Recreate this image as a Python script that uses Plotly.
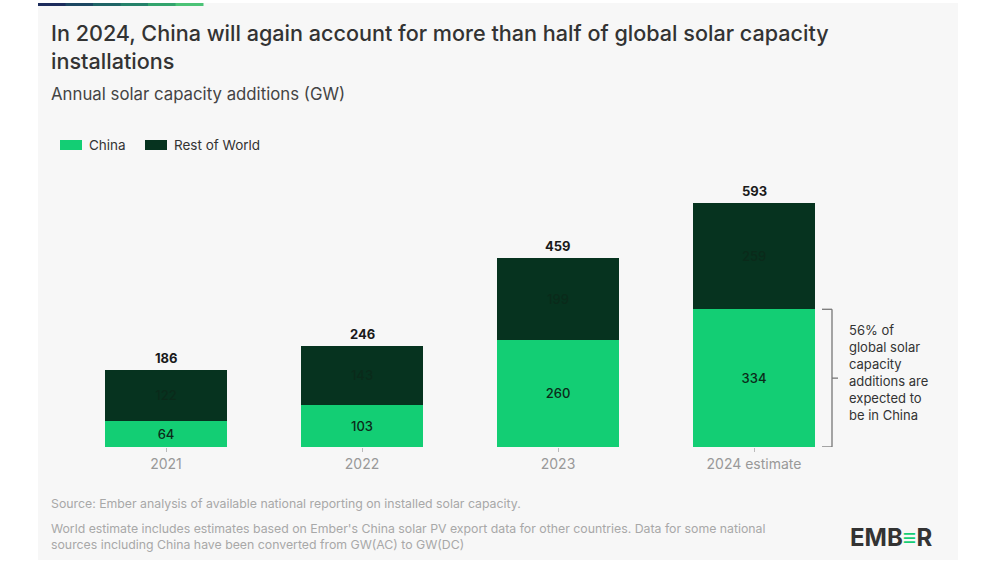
import plotly.graph_objects as go

# data
years = ["2021", "2022", "2023", "2024 estimate"]
china = [64, 103, 260, 334]
rest_of_world = [122, 143, 199, 259]
totals = [186, 246, 459, 593]
series_names = ["China", "Rest of World"]
series_colors = ["#13ce74", "#06331f"]

W, H = 1000, 563
L, R, T, B = 68, 148, 179, 116
FONT = "Inter"


def px2x(px):
    return (px - L) / (W - L - R)


def py2y(py):
    return (H - B - py) / (H - T - B)


fig = go.Figure()
fig.add_trace(go.Bar(
    x=years, y=china, name=series_names[0],
    marker=dict(color=series_colors[0], line=dict(width=0)),
    text=china, textposition="inside", insidetextanchor="middle",
    textfont=dict(color="#0b2a19", size=13, family=FONT, weight=500),
))
fig.add_trace(go.Bar(
    x=years, y=rest_of_world, name=series_names[1],
    marker=dict(color=series_colors[1], line=dict(width=0)),
    text=rest_of_world, textposition="inside", insidetextanchor="middle",
    textfont=dict(color="#0a2a1a", size=13, family=FONT, weight=500),
))

# totals above the stacks (index positions on the category axis)
for i, tot in enumerate(totals):
    fig.add_annotation(x=i, y=tot, text="<b>%d</b>" % tot, showarrow=False,
                       yanchor="bottom", yshift=2,
                       font=dict(size=13, color="#1a1a1a", family=FONT))

# card background and top accent bar
fig.add_shape(type="rect", xref="paper", yref="paper", layer="below",
              x0=px2x(38), x1=px2x(958), y0=py2y(560), y1=py2y(3),
              fillcolor="#f7f7f7", line=dict(width=0))
grad = ["#1c2c5c", "#1d4762", "#1f6466", "#25826a", "#33a46d", "#4cc377"]
seg = (203 - 38) / len(grad)
for i, c in enumerate(grad):
    fig.add_shape(type="rect", xref="paper", yref="paper",
                  x0=px2x(38 + i * seg), x1=px2x(38 + (i + 1) * seg + 0.5),
                  y0=py2y(6), y1=py2y(3), fillcolor=c, line=dict(width=0))

# legend drawn by hand (wide swatches like the reference)
leg_x = [60, 145]
for name, col, lx in zip(series_names, series_colors, leg_x):
    fig.add_shape(type="rect", xref="paper", yref="paper",
                  x0=px2x(lx), x1=px2x(lx + 22), y0=py2y(150), y1=py2y(140),
                  fillcolor=col, line=dict(width=0))
    fig.add_annotation(xref="paper", yref="paper", x=px2x(lx + 27), y=py2y(145),
                       xanchor="left", yanchor="middle", showarrow=False, text=name,
                       font=dict(size=13.5, color="#333333", family=FONT))

# bracket beside the 2024 China bar
bx = px2x(832)
br = dict(color="#777777", width=1.3)
fig.add_shape(type="line", xref="paper", yref="y", x0=bx, x1=bx, y0=0, y1=china[3], line=br)
fig.add_shape(type="line", xref="paper", yref="y", x0=px2x(822), x1=bx, y0=0, y1=0, line=br)
fig.add_shape(type="line", xref="paper", yref="y", x0=px2x(822), x1=bx,
              y0=china[3], y1=china[3], line=br)
fig.add_shape(type="line", xref="paper", yref="y", x0=bx, x1=px2x(838),
              y0=china[3] / 2, y1=china[3] / 2, line=br)
fig.add_annotation(xref="paper", yref="paper", x=px2x(847), y=py2y(372),
                   xanchor="left", yanchor="middle", align="left", showarrow=False,
                   text="56% of<br>global solar<br>capacity<br>additions are<br>expected to<br>be in China",
                   font=dict(size=13, color="#333333", family=FONT))

# titles
fig.add_annotation(xref="paper", yref="paper", x=px2x(49), y=py2y(18),
                   xanchor="left", yanchor="top", align="left", showarrow=False,
                   text="In 2024, China will again account for more than half of global solar capacity<br>installations",
                   font=dict(size=21.6, color="#333333", family=FONT, weight=500))
fig.add_annotation(xref="paper", yref="paper", x=px2x(49), y=py2y(94),
                   xanchor="left", yanchor="middle", showarrow=False,
                   text="Annual solar capacity additions (GW)",
                   font=dict(size=16.8, color="#444444", family=FONT))

# footer notes
fig.add_annotation(xref="paper", yref="paper", x=px2x(49), y=py2y(503),
                   xanchor="left", yanchor="middle", showarrow=False,
                   text="Source: Ember analysis of available national reporting on installed solar capacity.",
                   font=dict(size=12.3, color="#a8a8a8", family=FONT))
fig.add_annotation(xref="paper", yref="paper", x=px2x(49), y=py2y(536),
                   xanchor="left", yanchor="middle", align="left", showarrow=False,
                   text="World estimate includes estimates based on Ember's China solar PV export data for other countries. Data for some national<br>sources including China have been converted from GW(AC) to GW(DC)",
                   font=dict(size=12.3, color="#a8a8a8", family=FONT))
fig.add_annotation(xref="paper", yref="paper", x=px2x(935), y=py2y(537),
                   xanchor="right", yanchor="middle", showarrow=False,
                   text="<b>EMB<span style='color:#13ce74'>≡</span>R</b>",
                   font=dict(size=24, color="#333333", family=FONT))

fig.update_layout(
    width=W, height=H, barmode="stack", bargap=0.38,
    margin=dict(l=L, r=R, t=T, b=B),
    paper_bgcolor="white", plot_bgcolor="rgba(0,0,0,0)",
    font=dict(family=FONT),
    showlegend=False,
    xaxis=dict(type="category", showgrid=False, zeroline=False, showline=False,
               ticks="outside", ticklen=4, tickcolor="#bbbbbb",
               tickfont=dict(size=14, color="#999999", family=FONT),
               range=[-0.5, 3.5]),
    yaxis=dict(visible=False, range=[0, 650], fixedrange=True),
)

# drop the browser's default body margin so the figure sits at the page corner
fig.write_html("out.html", config={"displayModeBar": False},
               post_script="document.body.style.margin='0';")
